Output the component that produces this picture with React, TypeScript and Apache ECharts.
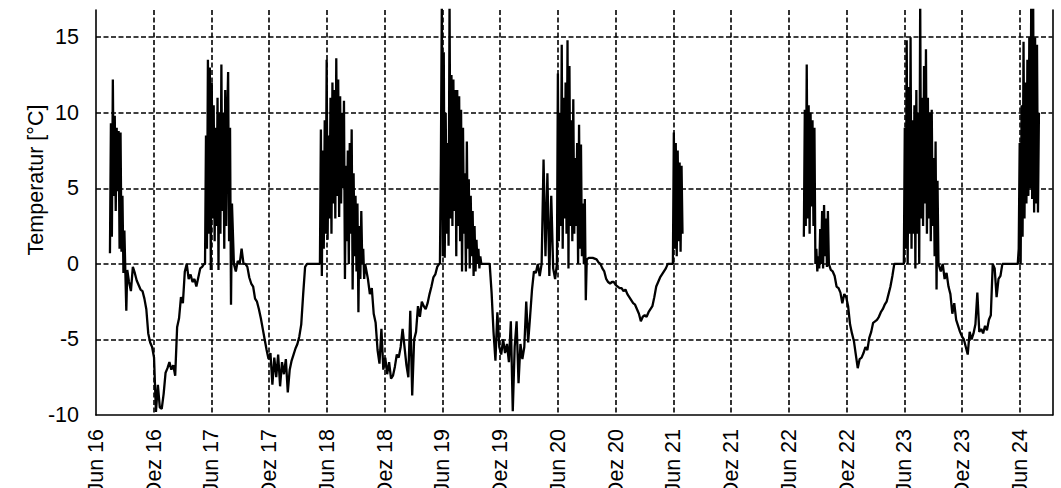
import { useEffect, useRef } from 'react';
import * as echarts from 'echarts';

// X tick labels every 6 months, starting June 2016 (x = months since Jun 2016)
const xTickLabels = [
  'Jun 16', 'Dez 16', 'Jun 17', 'Dez 17', 'Jun 18', 'Dez 18', 'Jun 19', 'Dez 19',
  'Jun 20', 'Dez 20', 'Jun 21', 'Dez 21', 'Jun 22', 'Dez 22', 'Jun 23', 'Dez 23', 'Jun 24',
];
const yTicks = [-10, -5, 0, 5, 10, 15];
const yAxisTitle = 'Temperatur [°C]';

// Temperature readings, each block: start (months since Jun 2016), step (months), values (°C)
const summer2016 = { start: 1.45, step: 0.1, values: [0.7, 9.3, 1.8, 12.2, 4.5, 9.8, 3.5, 9.0, 4.8, 8.8, 1.0, 8.7, 0.8, 4.5, -0.6, 2.2, -0.5, -3.1, -0.4] };
const winter2016 = { start: 3.43, step: 0.2, values: [-1.2, -1.8, -0.2, -0.6, -1.1, -1.4, -1.7, -1.8, -2.3, -3.0, -4.6, -5.2, -5.5, -6.2, -9.8, -8.0, -9.5, -9.6, -8.6, -7.2, -6.9, -6.5, -7.0, -6.7, -7.4, -4.2, -3.6, -2.2, -2.6, -0.5, 0.0, -1.0, -0.7, -1.2, -1.0, -1.5, -0.9, -0.3, -0.2, 0.0] };
const summer2017 = { start: 11.33, step: 0.1, values: [0.0, 8.5, 1.0, 13.5, 2.0, 13.0, -0.4, 12.0, 3.0, 10.5, 1.5, 9.0, 2.5, 11.0, -0.4, 10.0, 2.0, 13.2, 3.5, 10.0, 1.0, 11.5, 2.5, 9.5, 12.7, 1.5, 9.0, -2.7, 4.0] };
const winter2017 = { start: 14.33, step: 0.2, values: [0.0, -0.5, 0.2, 0.0, 1.0, 0.0, 0.0, -0.2, -0.9, -1.3, -1.5, -2.3, -2.5, -3.0, -3.6, -4.3, -5.0, -5.7, -6.3, -5.9, -8.0, -6.2, -7.5, -6.0, -8.1, -6.5, -7.3, -6.3, -8.5, -7.0, -6.4, -6.0, -5.6, -5.3, -4.8, -4.0, -2.0, -0.2, 0.0, 0.0, 0.0, 0.0, 0.0, 0.0, 0.0] };
const summer2018 = { start: 23.27, step: 0.1, values: [0.0, 8.9, -0.8, 7.5, 1.0, 9.5, 2.0, 13.5, 1.6, 8.5, 3.0, 11.0, 2.0, 12.0, 4.0, 11.5, 3.0, 13.6, 4.5, 12.2, 3.1, 11.1, 4.0, 10.0, 5.0, 10.8, -1.0, 6.5, 1.5, 7.5, 0.0, 8.0, 2.0, 8.9, -1.7, 6.0, 0.5, 4.5, -0.5, 4.0, -3.2, 2.5, -1.0, 3.5, 0.0, 1.0, -1.0, 0.0] };
const winter2018 = { start: 28.26, step: 0.2, values: [-1.0, -2.0, -1.6, -3.3, -3.9, -5.7, -6.6, -4.3, -7.0, -6.2, -7.3, -6.5, -7.6, -7.4, -6.8, -6.0, -6.2, -5.5, -4.3, -5.5, -6.7, -7.5, -3.1, -8.7, -5.0, -4.5, -2.8, -3.5, -2.5, -2.8, -3.0, -2.6, -2.0, -1.5, -0.9, -0.7, -0.2, 0.0] };
const summer2019 = { start: 35.74, step: 0.1, values: [0.0, 6.7, 17.5, 0.5, 14.0, 0.4, 10.0, 2.0, 8.0, 1.2, 17.5, 3.0, 12.5, 2.5, 12.2, 3.5, 11.5, 0.5, 11.5, 2.5, 11.1, 1.5, 10.2, -0.5, 9.0, 2.0, 6.0, -0.5, 8.1, 1.0, 5.6, -0.3, 4.5, 0.5, 3.5, -0.8, 2.5, -0.5, 1.6, 0.0, 1.0, -0.3, 0.5, 0.0] };
const winter2019 = { start: 40.31, step: 0.2, values: [0.0, 0.0, 0.0, 0.0, -1.9, -4.5, -6.4, -3.2, -5.5, -6.0, -5.0, -5.9, -5.3, -6.5, -3.8, -9.75, -5.5, -3.8, -7.9, -5.3, -6.3, -5.5, -2.5, -5.2, -3.5, -1.7, -0.5, -0.6, 0.0, -0.8, 0.0, 6.9, 0.5, 6.0, -0.8, 4.5, -0.3, -1.0] };
const summer2020 = { start: 47.9, step: 0.1, values: [0.0, 12.6, 1.5, 10.0, 2.5, 14.5, 1.0, 11.0, 3.0, 12.0, 2.0, 14.8, -0.3, 13.1, 2.5, 9.5, 1.5, 10.9, 2.0, 7.0, 2.5, 8.0, 0.0, 9.2, 1.0, 7.9, 0.5, 4.0, 0.0, 4.3, -2.4, 0.3] };
const winter2020 = { start: 51.22, step: 0.2, values: [0.4, 0.4, 0.4, 0.35, 0.3, 0.1, 0.0, -0.3, -0.5, -1.0, -1.2, -1.3, -1.2, -1.2, -1.4, -1.5, -1.6, -1.6, -1.8, -1.7, -2.0, -2.2, -2.4, -2.6, -2.7, -3.0, -3.3, -3.8, -3.5, -3.4, -3.5, -3.2, -3.0, -2.8, -2.2, -1.5, -1.2, -0.9, -0.7, -0.5, -0.3, 0.0, 0.0, 0.0] };
const summer2021 = { start: 59.95, step: 0.1, values: [0.0, 8.7, 1.0, 8.0, 0.5, 7.5, 1.5, 6.7, 0.8, 6.5, 2.0] };
const gapAt = 61.5;
const summer2022 = { start: 73.56, step: 0.1, values: [1.8, 10.2, 2.5, 13.2, 3.0, 10.5, 2.0, 10.0, 3.8, 9.5, 2.5, 9.0, 0.0, 1.0, -0.5, 0.5, -0.3, 2.3, 0.0, 3.5, -0.3, 3.9, 0.5, 3.0, -0.2, 3.5, 0.0] };
const winter2022 = { start: 76.36, step: 0.2, values: [-0.4, -0.5, -0.8, -1.5, -1.6, -1.9, -2.6, -2.0, -2.2, -2.8, -4.0, -4.6, -5.1, -6.0, -6.9, -6.3, -6.2, -5.9, -5.5, -5.7, -4.9, -4.5, -3.9, -3.8, -3.7, -3.5, -3.2, -3.0, -2.7, -2.5, -2.0, -1.5, -0.8, 0.0, 0.0, 0.0, 0.0, 0.0] };
const summer2023 = { start: 83.95, step: 0.1, values: [0.0, 9.0, 1.0, 14.8, 0.0, 11.7, 2.0, 15.0, 1.0, 9.5, 2.0, 10.5, -0.3, 11.5, 2.0, 10.0, 0.0, 17.5, 3.0, 11.0, 2.5, 13.1, 4.0, 14.2, 2.0, 11.0, 3.0, 10.0, 1.5, 10.2, 2.5, 7.0, 0.5, 8.1, -1.7, 5.5, 0.0] };
const winter2023 = { start: 87.79, step: 0.2, values: [-0.5, 0.0, -1.0, -0.6, -1.5, -2.0, -3.3, -2.6, -3.7, -4.1, -4.5, -4.8, -5.0, -5.5, -6.0, -4.5, -5.0, -4.6, -4.0, -1.9, -4.5, -4.3, -4.6, -4.1, -4.4, -3.7, -3.4, 0.0, -0.3, -2.2, -1.0, -0.8, 0.0, 0.0, 0.0, 0.0, 0.0, 0.0, 0.0, 0.0] };
const summer2024 = { start: 95.79, step: 0.1, values: [0.0, 1.0, 8.0, 0.0, 10.5, 1.8, 14.7, 3.0, 12.0, 4.0, 13.5, 4.5, 15.0, 5.0, 17.5, 4.3, 17.5, 3.4, 15.0, 4.0, 14.5, 3.4, 10.0] };

const beforeGap = [summer2016, winter2016, summer2017, winter2017, summer2018, winter2018, summer2019, winter2019, summer2020, winter2020, summer2021];
const afterGap = [summer2022, winter2022, summer2023, winter2023, summer2024];

function buildData() {
  const out: (number | null)[][] = [];
  const add = (segs: { start: number; step: number; values: number[] }[]) => {
    segs.forEach((s) => s.values.forEach((v, i) => out.push([+(s.start + i * s.step).toFixed(3), v])));
  };
  add(beforeGap);
  out.push([gapAt, null]);
  add(afterGap);
  return out;
}

const FONT = "'Liberation Sans', Arial, sans-serif";
const FS = 21.5;

export default function App() {
  const ref = useRef<HTMLDivElement>(null);
  useEffect(() => {
    if (!ref.current) return;
    const chart = echarts.init(ref.current, undefined, { renderer: 'svg' });
    const gridDash = { color: '#000', width: 1.6, type: [5, 2.5] as any };
    chart.setOption({
      animation: false,
      backgroundColor: '#fff',
      grid: {
        left: 96, right: 8.5, top: 10, bottom: 73,
        containLabel: false,
        outerBoundsMode: 'none',
      },
      xAxis: {
        type: 'value',
        min: 0,
        max: 99.4,
        interval: 6,
        axisLine: { show: true, onZero: false, lineStyle: { color: '#000', width: 1.6 } },
        axisTick: { show: false },
        axisLabel: {
          rotate: 90,
          margin: 14,
          fontSize: FS,
          fontFamily: FONT,
          color: '#000',
          showMaxLabel: false,
          formatter: (v: number) => {
            const k = v / 6;
            if (Math.abs(k - Math.round(k)) > 1e-6) return '';
            return xTickLabels[Math.round(k)] ?? '';
          },
        },
        splitLine: { show: true, showMinLine: false, showMaxLine: false, lineStyle: gridDash },
      },
      yAxis: [
        {
          type: 'value',
          min: -10,
          max: 16.8,
          interval: 5,
          axisLine: { show: true, onZero: false, lineStyle: { color: '#000', width: 1.6 } },
          axisTick: { show: false },
          axisLabel: {
            margin: 17,
            fontSize: FS,
            fontFamily: FONT,
            color: '#000',
            showMaxLabel: false,
            formatter: (v: number) => (yTicks.includes(v) ? String(v) : ''),
          },
          splitLine: { show: true, showMinLine: false, showMaxLine: false, lineStyle: gridDash },
        },
        {
          type: 'value',
          position: 'right',
          min: -10,
          max: 16.8,
          interval: 5,
          axisLine: { show: true, onZero: false, lineStyle: { color: '#000', width: 1.6 } },
          axisTick: { show: false },
          axisLabel: { show: false },
          splitLine: { show: false },
        },
      ],
      graphic: [
        {
          type: 'text',
          x: 36,
          y: 180,
          rotation: Math.PI / 2,
          style: {
            text: yAxisTitle,
            fontSize: FS,
            fontFamily: FONT,
            fill: '#000',
            textAlign: 'center',
            textVerticalAlign: 'middle',
          },
        },
      ],
      series: [
        {
          type: 'line',
          data: buildData(),
          showSymbol: false,
          connectNulls: false,
          clip: true,
          lineStyle: { color: '#000', width: 2.3 },
          emphasis: { disabled: true },
        },
      ],
    });
    return () => chart.dispose();
  }, []);
  return (
    <div
      ref={ref}
      style={{ position: 'fixed', left: 0, top: 0, width: 1061, height: 488, background: '#fff' }}
    />
  );
}
